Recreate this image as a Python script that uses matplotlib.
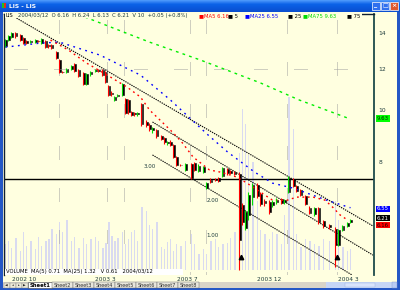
import matplotlib
matplotlib.use("Agg")
import matplotlib.pyplot as plt
import numpy as np
from matplotlib.patches import Rectangle
from matplotlib.colors import LinearSegmentedColormap
from matplotlib.ticker import NullLocator, NullFormatter
from matplotlib.transforms import blended_transform_factory

plt.rcParams['font.family'] = ['DejaVu Sans']

# ---------------- data ----------------
days = [1, 3, 5, 8, 11, 13, 15, 18, 21, 23, 25, 28, 30, 32, 35, 37, 39, 42, 45, 47,
        50, 53, 55, 58, 61, 63, 66, 68, 70, 72, 74, 76, 79, 81, 83, 85, 87, 89, 92, 95,
        97, 99, 102, 105, 107, 109, 111, 113, 115, 118, 121, 125, 127, 130, 133, 135, 138, 141, 143, 146,
        149, 151, 154, 157, 159, 161, 163, 166, 169, 171, 174, 177, 179, 182, 185, 187, 190, 193, 195, 198,
        201, 204, 207, 210, 213, 217, 221, 223, 226, 229, 231]
opens = [13.22, 13.58, 13.76, 14.00, 13.88, 13.70, 13.52, 13.46, 13.46, 13.52, 13.40, 13.52, 13.28, 13.28, 12.89, 12.45, 11.82, 11.82, 11.97, 12.23,
         11.92, 11.76, 11.22, 11.71, 11.87, 11.92, 11.92, 11.82, 11.12, 10.79, 10.46, 10.64, 10.69, 10.51, 10.46, 9.93, 9.89, 9.85, 10.28, 9.51,
         9.38, 9.18, 9.18, 8.95, 8.87, 8.67, 8.71, 8.60, 8.17, 7.89, 7.72, 7.92, 7.96, 7.69, 7.65, 7.13, 7.39, 7.42, 7.45, 7.52,
         7.75, 7.69, 7.65, 7.58, 6.63, 6.00, 6.35, 6.86, 7.23, 6.95, 6.74, 6.71, 6.63, 6.71, 6.80, 6.71, 7.01, 7.42, 7.20, 7.07,
         6.89, 6.55, 6.38, 6.55, 6.18, 6.08, 5.98, 5.57, 5.95, 6.05, 6.16]
highs = [13.64, 13.88, 14.06, 14.06, 13.94, 13.76, 13.58, 13.58, 13.64, 13.58, 13.70, 13.58, 13.34, 13.34, 12.94, 12.50, 11.87, 12.02, 12.18, 12.29,
         11.97, 11.82, 11.76, 11.87, 11.97, 11.97, 11.97, 11.87, 11.17, 10.88, 10.64, 10.74, 11.27, 10.55, 10.51, 9.98, 9.93, 9.93, 10.33, 9.59,
         9.47, 9.30, 9.22, 8.99, 8.91, 8.75, 8.79, 8.64, 8.20, 7.92, 7.96, 7.96, 7.99, 7.92, 7.86, 7.33, 7.45, 7.45, 7.49, 7.83,
         7.79, 7.72, 7.69, 7.65, 6.68, 6.49, 7.01, 7.29, 7.29, 7.01, 6.80, 6.77, 6.77, 6.83, 6.83, 6.80, 7.52, 7.45, 7.23, 7.10,
         6.92, 6.60, 6.57, 6.57, 6.21, 6.11, 6.03, 5.98, 6.08, 6.16, 6.24]
lows = [13.17, 13.52, 13.70, 13.70, 13.52, 13.34, 13.34, 13.40, 13.40, 13.46, 13.34, 13.11, 13.11, 13.06, 12.50, 11.76, 11.76, 11.76, 11.92, 11.82,
        11.56, 11.17, 11.17, 11.61, 11.82, 11.82, 11.61, 11.27, 10.64, 10.64, 10.42, 10.60, 10.64, 9.85, 9.85, 9.76, 9.76, 9.76, 9.34, 9.30,
        9.14, 9.06, 8.87, 8.79, 8.63, 8.60, 8.56, 8.13, 7.86, 7.86, 7.69, 7.42, 7.69, 7.65, 7.62, 7.10, 7.29, 7.36, 7.33, 7.49,
        7.55, 7.58, 7.55, 5.00, 6.08, 5.95, 6.21, 6.63, 6.83, 6.60, 6.60, 6.38, 6.57, 6.66, 6.66, 6.66, 6.98, 7.17, 7.01, 6.89,
        6.63, 6.38, 6.32, 6.11, 6.00, 5.98, 5.06, 5.55, 5.92, 6.03, 6.13]
closes = [13.58, 13.82, 14.00, 13.82, 13.58, 13.40, 13.40, 13.52, 13.58, 13.50, 13.64, 13.17, 13.22, 13.11, 12.56, 11.82, 11.80, 11.97, 12.13, 11.87,
          11.61, 11.22, 11.71, 11.82, 11.92, 11.87, 11.66, 11.31, 10.69, 10.74, 10.60, 10.69, 11.22, 9.89, 9.93, 9.80, 9.85, 9.89, 9.42, 9.38,
          9.22, 9.26, 8.95, 8.83, 8.71, 8.71, 8.60, 8.17, 7.89, 7.88, 7.92, 7.45, 7.72, 7.86, 7.82, 7.29, 7.33, 7.39, 7.36, 7.79,
          7.62, 7.62, 7.58, 5.69, 6.16, 6.43, 6.92, 7.23, 6.89, 6.66, 6.69, 6.43, 6.71, 6.77, 6.69, 6.77, 7.45, 7.20, 7.04, 6.92,
          6.66, 6.40, 6.55, 6.16, 6.05, 6.03, 5.57, 5.95, 6.05, 6.13, 6.21]
volumes = [0.75, 0.83, 0.64, 0.92, 0.56, 1.11, 0.69, 0.83, 0.61, 0.97, 0.69, 0.83, 0.89, 1.19, 1.03, 1.39, 1.11, 1.44, 0.83, 0.97,
           0.64, 0.92, 0.75, 0.89, 0.97, 0.83, 0.64, 0.78, 1.39, 1.00, 0.83, 0.92, 1.11, 0.75, 0.89, 1.11, 1.17, 0.83, 1.81, 1.72,
           1.31, 1.19, 1.39, 0.67, 0.61, 0.81, 0.89, 0.56, 0.75, 0.69, 0.83, 1.03, 0.75, 0.47, 0.61, 0.47, 0.83, 0.89, 0.67, 0.75,
           0.78, 0.92, 1.11, 3.39, 4.64, 4.22, 3.33, 3.11, 2.00, 1.17, 1.03, 0.89, 1.11, 1.03, 0.75, 1.58, 5.00, 4.08, 1.03, 0.67,
           0.89, 0.83, 0.75, 0.69, 0.89, 0.83, 2.00, 1.44, 0.67, 0.56, 0.61]

ma_short_days = [31, 43, 55, 71, 82, 91, 97, 104, 113, 119, 126, 137, 144, 155, 162, 171, 179, 189, 195, 206, 214, 219, 224, 229]
ma_short = [13.58, 13.00, 12.29, 11.56, 11.07, 10.60, 10.02, 9.59, 9.06, 8.68, 8.17, 7.72, 7.65, 7.49, 7.29, 7.01, 6.77, 6.77, 6.86, 6.86, 6.77, 6.57, 6.35, 6.21]
ma_mid_days = [1, 24, 37, 64, 91, 111, 129, 136, 149, 167, 179, 193, 215, 231]
ma_mid = [13.17, 13.40, 13.46, 12.72, 11.66, 10.46, 9.38, 8.99, 8.35, 7.65, 7.29, 7.13, 6.77, 6.55]
ma_long_days = [54, 97, 131, 171, 197, 231]
ma_long = [15.01, 13.46, 12.45, 11.27, 10.46, 9.63]

trend_upper_days = [7, 246]
trend_upper = [15.02, 6.05]
trend_mid_days = [99, 246]
trend_mid = [9.51, 5.33]
trend_low_days = [99, 232]
trend_low = [8.24, 4.89]
support_level = 7.41
signal_days = [158, 222]
signal_prices = [5.29, 5.29]

price_ticks = [14, 12, 10, 8]
price_labels = ['14', '12', '10', '8']
date_ticks = [5.3, 60.7, 115.3, 168.7, 222.7]
date_labels = ['2002 10', '2003 3', '2003 7', '2003 12', '2004 3']
grid_days = [37, 69, 80, 124, 135, 189, 222]
grid_prices = [12]
vol_label_days = [135, 135, 93]
vol_label_vals = [1.0, 2.0, 3.0]
vol_label_text = ['1.00', '2.00', '3.00']

tag_prices = [9.65, 6.52, 6.26, 6.07]
tag_texts = ['9.63', '6.55', '6.21', '6.16']
tag_fc = ['#00FF00', '#0000FF', '#000000', '#FF0000']
tag_tc = ['#003000', 'white', 'white', '#200000']

PRICE_MIN, PRICE_MAX = 4.889, 15.21
DAY_MIN, DAY_MAX = 0, 246.67
VOL_MIN, VOL_MAX = -0.139, 7.389

CREAM = '#FFFFE0'
DARK = '#1E3C3C'
XPBLUE = '#2457C5'

# ---------------- figure ----------------
fig = plt.figure(figsize=(4, 2.9), dpi=100)

# background / window chrome (pixel coordinates)
bg = fig.add_axes([0, 0, 1, 1], zorder=-10)
bg.set_axis_off()
cmap = LinearSegmentedColormap.from_list('xp', ['#4A96FA', '#0C62E8', '#0A58DC', '#0A4FD0'])
bg.imshow(np.linspace(0, 1, 12).reshape(12, 1), cmap=cmap, extent=(0, 400, 12, 0), aspect='auto')
bg.add_patch(Rectangle((0, 12), 400, 278, fc=CREAM, ec='none'))
bg.add_patch(Rectangle((0, 12), 3, 278, fc=XPBLUE, ec='none'))
bg.add_patch(Rectangle((397, 12), 3, 278, fc=XPBLUE, ec='none'))
bg.add_patch(Rectangle((0, 288), 400, 2, fc=XPBLUE, ec='none'))
# icon + title
bg.add_patch(Rectangle((1.5, 3), 2, 5, fc='#20C020', ec='none'))
bg.add_patch(Rectangle((3.5, 3), 2, 5, fc='#E03020', ec='none'))
bg.text(9, 6.3, 'LIS - LIS', color='white', fontsize=4.3, fontweight='bold', va='center')
for bx, fc, glyph in [(372, '#3070EE', '_'), (381, '#3070EE', '□'), (390, '#E0582E', '×')]:
    bg.add_patch(Rectangle((bx, 1.5), 8, 8.5, fc=fc, ec='white', lw=0.5))
    bg.text(bx + 4, 6, glyph, color='white', fontsize=4.5, ha='center', va='center', fontweight='bold')
# sheet tab bar
bg.add_patch(Rectangle((3, 282), 394, 6, fc='#D8D4C8', ec='none'))
for i in range(4):
    bg.add_patch(Rectangle((4 + i * 6, 282.5), 5.5, 5, fc='#ECE9D8', ec='#808080', lw=0.3))
    bg.text(6.75 + i * 6, 285.2, ['◀', '◂', '▸', '▶'][i], fontsize=2.5, ha='center', va='center', color='#202020')
bg.add_patch(Rectangle((28, 282), 24, 6, fc='white', ec='#404040', lw=0.4))
bg.text(40, 285.2, 'Sheet1', fontsize=3.8, ha='center', va='center', fontweight='bold', color='black')
for i in range(7):
    x0 = 52 + i * 21
    bg.add_patch(Rectangle((x0, 282.3), 21, 5.4, fc='#E8E6DC', ec='#606060', lw=0.3))
    bg.text(x0 + 10.5, 285.2, 'Sheet%d' % (i + 2), fontsize=3.5, ha='center', va='center', color='#303030')
bg.add_patch(Rectangle((326, 282), 66, 6, fc='#C6D6F6', ec='none'))
bg.add_patch(Rectangle((345, 282.8), 30, 4.4, fc='#D8E4FC', ec='#9AB0E0', lw=0.3))
bg.add_patch(Rectangle((392, 282), 5, 6, fc='#B8CCF4', ec='#8098D0', lw=0.3))
bg.set_xlim(0, 400)
bg.set_ylim(290, 0)

rect = [4 / 400, 15 / 290, 370 / 400, 261 / 290]

# volume panel (behind price)
vax = fig.add_axes(rect, zorder=0)
vax.set_axis_off()
vax.bar(days, volumes, width=1.0, color='#D9DAF0', edgecolor='none')
for d, v, t in zip(vol_label_days, vol_label_vals, vol_label_text):
    vax.text(d, v, t, fontsize=4, color=DARK, va='center', ha='left')
vax.set_xlim(DAY_MIN, DAY_MAX)
vax.set_ylim(VOL_MIN, VOL_MAX)

# price panel
ax = fig.add_axes(rect, zorder=1)
ax.patch.set_visible(False)
ax.set_yscale('log')

dash_grid = (36, (1, 1, 1, 1, 1, 1, 1, 1, 1, 1, 1, 1, 1, 29))
for d in grid_days:
    ax.plot([d, d], [PRICE_MAX, PRICE_MIN], color='#A0A0A0', lw=0.72, linestyle=dash_grid)
for p in grid_prices:
    ax.plot([DAY_MIN, DAY_MAX], [p, p], color='#A0A0A0', lw=0.72, linestyle=(30, (1, 1, 1, 1, 1, 1, 1, 1, 1, 1, 1, 1, 1, 27)))

ax.axhline(support_level, color='black', lw=1.0)

for dd, vv in [(trend_upper_days, trend_upper), (trend_mid_days, trend_mid), (trend_low_days, trend_low)]:
    ax.plot(dd, vv, color='black', lw=0.8, linestyle=(0, (1.2, 0.9)))

ax.plot(ma_long_days, ma_long, color='#00EE00', lw=1.0, linestyle=(0, (2, 3)))
ax.plot(ma_mid_days, ma_mid, color='#0000FF', lw=1.0, linestyle=(0, (1.3, 3.2)))
ax.plot(ma_short_days, ma_short, color='#FF0000', lw=1.0, linestyle=(0, (1.3, 2.6)))

d_arr = np.array(days, dtype=float)
o_arr = np.array(opens)
c_arr = np.array(closes)
up = c_arr >= o_arr
wick_colors = np.where(up, '#00E000', '#FF0000')
ax.vlines(d_arr - 0.45, lows, highs, colors=wick_colors, lw=0.8)
body_bottom = np.minimum(o_arr, c_arr)
body_height = np.abs(c_arr - o_arr)
ax.bar(d_arr + 0.35, body_height, bottom=body_bottom, width=1.1, color='black',
       edgecolor='black', lw=0.4)
ax.plot(signal_days, signal_prices, linestyle='none', marker='^', color='black', markersize=3.2)

ax.set_xlim(DAY_MIN, DAY_MAX)
ax.set_ylim(PRICE_MIN, PRICE_MAX)
ax.yaxis.tick_right()
ax.set_yticks(price_ticks)
ax.set_yticklabels(price_labels)
ax.yaxis.set_minor_locator(NullLocator())
ax.yaxis.set_minor_formatter(NullFormatter())
ax.tick_params(axis='y', which='both', length=0, pad=3, labelsize=4.3, labelcolor=DARK)
ax.set_xticks(date_ticks)
ax.set_xticklabels(date_labels)
for lab in ax.get_xticklabels():
    lab.set_horizontalalignment('left')
ax.tick_params(axis='x', length=0, pad=1.2, labelsize=4.2, labelcolor=DARK)
for s in ['left', 'top']:
    ax.spines[s].set_color('#102030')
    ax.spines[s].set_linewidth(1.0)
ax.spines['right'].set_color('#1E4B4B')
ax.spines['right'].set_linewidth(1.3)
ax.spines['bottom'].set_visible(False)

tr = blended_transform_factory(ax.transAxes, ax.transData)
for p, t, fc, tc in zip(tag_prices, tag_texts, tag_fc, tag_tc):
    ax.text(1.008, p, t, transform=tr, fontsize=3.9, color=tc, va='center', ha='left',
            bbox=dict(boxstyle='square,pad=0.12', fc=fc, ec='none'), clip_on=False)

# overlay: header legend row and volume label strip
fg = fig.add_axes([0, 0, 1, 1], zorder=5)
fg.set_axis_off()
fg.patch.set_visible(False)
fg.add_patch(Rectangle((4.5, 12.3), 357, 5.4, fc=CREAM, ec='none'))
hdr = [(6, 'LIS', 'black'),
       (18, '2004/03/12  O 6.16  H 6.24  L 6.13  C 6.21  V 10  +0.05 (+0.8%)', DARK),
       (199, '■MA5 6.16', '#FF0000'),
       (228, '■ 5', 'black'),
       (245, '■MA25 6.55', '#0000FF'),
       (288, '■ 25', 'black'),
       (303, '■MA75 9.63', '#00DD00'),
       (347, '■ 75', 'black')]
for x, t, c in hdr:
    fg.text(x, 15.2, t, fontsize=3.8, color=c, va='center', ha='left')
fg.add_patch(Rectangle((4.5, 268.5), 178, 6, fc='white', ec='none'))
fg.text(6, 271.6, 'VOLUME  MA(5) 0.71  MA(25) 1.32   V 0.61   2004/03/12', fontsize=3.8,
        color='black', va='center', ha='left')
fg.set_xlim(0, 400)
fg.set_ylim(290, 0)

fig.savefig('out.png', dpi=100, facecolor=CREAM)
